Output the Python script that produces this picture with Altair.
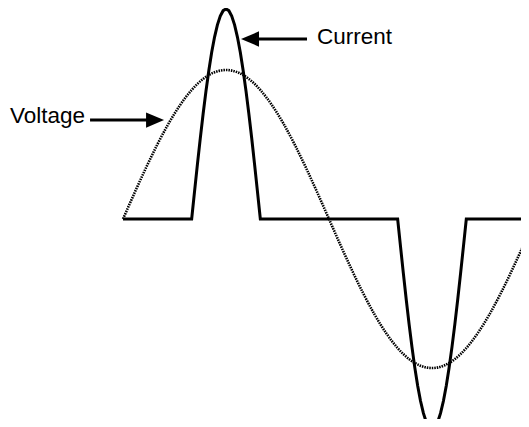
import altair as alt
import pandas as pd

# Voltage: phase angle (degrees) and value (peak = 1)
volt_deg = [0, 10, 20, 30, 40, 50, 60, 70, 80, 90, 100, 110, 120, 130, 140, 150, 160, 170, 180,
            190, 200, 210, 220, 230, 240, 250, 260, 270, 280, 290, 300, 310, 320, 330, 340, 350, 360]
volt_val = [0.0, 0.174, 0.342, 0.5, 0.643, 0.766, 0.866, 0.94, 0.985, 1.0, 0.985, 0.94, 0.866, 0.766,
            0.643, 0.5, 0.342, 0.174, 0.0, -0.174, -0.342, -0.5, -0.643, -0.766, -0.866, -0.94, -0.985,
            -1.0, -0.985, -0.94, -0.866, -0.766, -0.643, -0.5, -0.342, -0.174, 0.0]

# Current: flat at zero with a narrow pulse around each voltage peak
cur_deg = [0, 60, 62.5, 65, 67.5, 70, 72.5, 75, 77.5, 80, 82.5, 85, 87.5, 90,
           92.5, 95, 97.5, 100, 102.5, 105, 107.5, 110, 112.5, 115, 117.5, 120,
           240, 242.5, 245, 247.5, 250, 252.5, 255, 257.5, 260, 262.5, 265, 267.5, 270,
           272.5, 275, 277.5, 280, 282.5, 285, 287.5, 290, 292.5, 295, 297.5, 300, 360]
cur_val = [0, 0, 0.184, 0.365, 0.54, 0.705, 0.858, 0.997, 1.119, 1.221, 1.303, 1.362, 1.398, 1.41,
           1.398, 1.362, 1.303, 1.221, 1.119, 0.997, 0.858, 0.705, 0.54, 0.365, 0.184, 0,
           0, -0.184, -0.365, -0.54, -0.705, -0.858, -0.997, -1.119, -1.221, -1.303, -1.362, -1.398, -1.41,
           -1.398, -1.362, -1.303, -1.221, -1.119, -0.997, -0.858, -0.705, -0.54, -0.365, -0.184, 0, 0]

# Annotations (in data units)
label_text = ["Current", "Voltage"]
label_x = [169.5, -98.7]
label_y = [1.174, 0.644]
arrow_from_x = [160.8, -28.8]
arrow_to_x = [111.0, 28.0]
arrow_y = [1.208, 0.664]
arrow_dir = ["left", "right"]

volt_df = pd.DataFrame({"deg": volt_deg, "v": volt_val})
cur_df = pd.DataFrame({"deg": cur_deg, "v": cur_val})
lab_df = pd.DataFrame({"text": label_text, "x": label_x, "y": label_y})
arr_df = pd.DataFrame({"x": arrow_from_x, "x2": arrow_to_x, "y": arrow_y, "dir": arrow_dir})

xs = alt.Scale(domain=[-100.5, 347.8], nice=False, zero=False)
ys = alt.Scale(domain=[-1.342, 1.416], nice=False, zero=False)

X = lambda f: alt.X(f, type="quantitative", scale=xs, axis=None)
Y = lambda f: alt.Y(f, type="quantitative", scale=ys, axis=None)

voltage = alt.Chart(volt_df).mark_line(
    color="#000000", strokeWidth=2.6, strokeDash=[1.5, 1.0], interpolate="natural", clip=True
).encode(x=X("deg"), y=Y("v"))

current = alt.Chart(cur_df).mark_line(
    color="black", strokeWidth=3, strokeJoin="miter", clip=True
).encode(x=X("deg"), y=Y("v"))

labels = alt.Chart(lab_df).mark_text(
    font="Liberation Sans, Arial, sans-serif", fontSize=22.5, align="left", baseline="alphabetic", color="black"
).encode(x=X("x"), y=Y("y"), text="text")

shafts = alt.Chart(arr_df).mark_rule(color="black", strokeWidth=3).encode(
    x=X("x"), x2="x2", y=Y("y")
)

head_left = alt.Chart(arr_df).transform_filter(alt.datum.dir == "left").mark_point(
    shape="M -1 0 L 1 -0.85 L 1 0.85 Z", size=324, filled=True, color="black", opacity=1
).encode(x=X("x2"), y=Y("y"))

head_right = alt.Chart(arr_df).transform_filter(alt.datum.dir == "right").mark_point(
    shape="M 1 0 L -1 -0.85 L -1 0.85 Z", size=324, filled=True, color="black", opacity=1
).encode(x=X("x2"), y=Y("y"))

chart = alt.layer(voltage, current, shafts, head_left, head_right, labels).properties(
    width=513, height=411, autosize=alt.AutoSizeParams(type="none"), padding=0
).configure_view(stroke=None)

chart.save("out.html", embed_options={"renderer": "svg", "actions": False})
